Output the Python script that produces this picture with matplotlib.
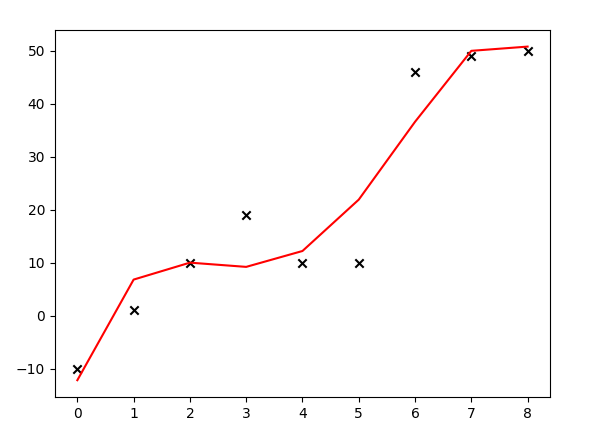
import matplotlib
matplotlib.use("Agg")
import matplotlib.pyplot as plt

x_vals = [0, 1, 2, 3, 4, 5, 6, 7, 8]
observed = [-10, 1, 10, 19, 10, 10, 46, 49, 50]
fitted = [-12.2, 6.8, 10.0, 9.2, 12.2, 21.9, 36.6, 50.0, 50.8]

fig, ax = plt.subplots(figsize=(5.96, 4.4), dpi=100)
fig.subplots_adjust(left=0.092, right=0.923, top=0.932, bottom=0.098)
ax.scatter(x_vals, observed, marker='x', color='black')
ax.plot(x_vals, fitted, color='red')
fig.savefig("out.png")
